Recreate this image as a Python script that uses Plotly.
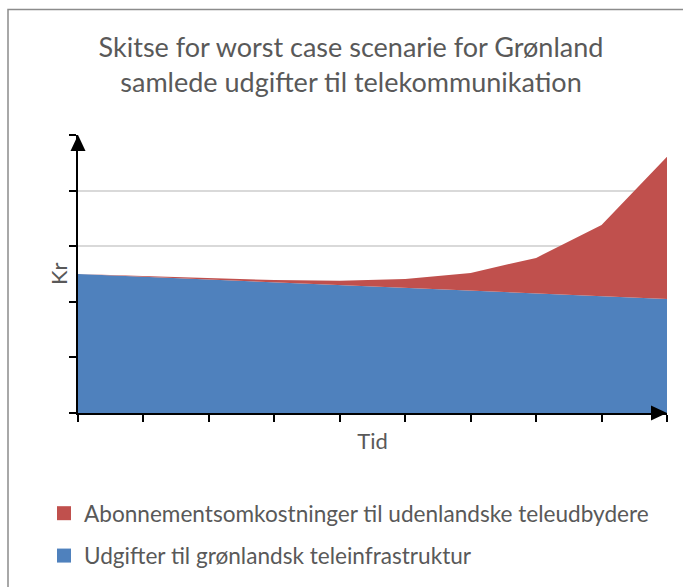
import plotly.graph_objects as go

# ---- data ----
time_steps = ["1", "2", "3", "4", "5", "6", "7", "8", "9", "10"]
infra_costs = [2.50, 2.45, 2.40, 2.35, 2.30, 2.25, 2.20, 2.15, 2.10, 2.05]
foreign_subscriptions = [0.00, 0.01, 0.02, 0.04, 0.08, 0.16, 0.32, 0.64, 1.28, 2.56]
y_ticks = [0, 1, 2, 3, 4, 5]

series_names = [
    "Udgifter til grønlandsk teleinfrastruktur",
    "Abonnementsomkostninger til udenlandske teleudbydere",
]
title_lines = [
    "Skitse for worst case scenarie for Grønland",
    "samlede udgifter til telekommunikation",
]
x_title = "Tid"
y_title = "Kr"

BLUE = "#4F81BD"
RED = "#C0504D"
TXT = "#595959"
FONT = "Lato, 'Open Sans', sans-serif"

W, H = 683, 587
L, R, T, B = 78, 16, 135, 174
pw, ph = W - L - R, H - T - B

xidx = list(range(len(time_steps)))

fig = go.Figure()
fig.add_trace(go.Scatter(
    x=xidx, y=infra_costs, stackgroup="one", mode="lines",
    line=dict(width=0, color=BLUE), fillcolor=BLUE,
    showlegend=False, hoverinfo="skip", name=series_names[0]))
fig.add_trace(go.Scatter(
    x=xidx, y=foreign_subscriptions, stackgroup="one", mode="lines",
    line=dict(width=0, color=RED), fillcolor=RED,
    showlegend=False, hoverinfo="skip", name=series_names[1]))

# legend entries as square swatches
fig.add_trace(go.Scatter(
    x=[None], y=[None], mode="markers", name=series_names[1],
    marker=dict(symbol="square", size=14, color=RED),
    legendgroup="a", legendrank=1))
fig.add_trace(go.Scatter(
    x=[None], y=[None], mode="markers", name=series_names[0],
    marker=dict(symbol="square", size=14, color=BLUE),
    legendgroup="b", legendrank=2))

def px_x(px):
    return (px - L) / pw

def px_y(py):
    return (H - B - py) / ph

# outer chart border
fig.add_shape(type="rect", xref="paper", yref="paper",
              x0=px_x(8), x1=px_x(700), y0=px_y(600), y1=px_y(9.5),
              line=dict(color="#8C8C8C", width=1.5), layer="below")

# arrow heads on axes
fig.add_shape(type="path", xref="paper", yref="paper", xsizemode="pixel", ysizemode="pixel",
              xanchor=0, yanchor=1, path="M-7.5,-16 L7.5,-16 L0,0 Z",
              fillcolor="black", line=dict(width=0))
fig.add_shape(type="path", xref="paper", yref="paper", xsizemode="pixel", ysizemode="pixel",
              xanchor=1, yanchor=0, path="M0,0 L-16,7.5 L-16,-7.5 Z",
              fillcolor="black", line=dict(width=0))

# y-axis title
fig.add_annotation(text=y_title, xref="paper", yref="paper", x=px_x(58), y=0.5,
                   xanchor="center", yanchor="middle", textangle=-90, showarrow=False,
                   font=dict(size=22, color=TXT, family=FONT))

fig.update_layout(
    width=W, height=H,
    margin=dict(l=L, r=R, t=T, b=B, autoexpand=False),
    paper_bgcolor="white", plot_bgcolor="white",
    font=dict(family=FONT, color=TXT),
    title=dict(text="<br>".join(title_lines), x=351 / W, xanchor="center",
               xref="container", yref="container", y=1 - 56.5 / H, yanchor="middle",
               font=dict(size=27, color=TXT, family=FONT)),
    showlegend=True,
    legend=dict(x=px_x(44), y=px_y(492), xanchor="left", yanchor="top",
                xref="paper", yref="paper", orientation="v",
                font=dict(size=22.6, color=TXT, family=FONT),
                tracegroupgap=10, itemsizing="trace",
                bgcolor="rgba(0,0,0,0)"),
    xaxis=dict(range=[0, len(time_steps) - 1], tickmode="array", tickvals=xidx,
               showticklabels=False, ticks="outside", ticklen=7, tickwidth=2,
               tickcolor="black", showline=True, linewidth=2, linecolor="black",
               showgrid=False, zeroline=False, fixedrange=True, automargin=False,
               title=dict(text=x_title, font=dict(size=22, color=TXT), standoff=13)),
    yaxis=dict(range=[0, 5], tickmode="array", tickvals=y_ticks,
               showticklabels=False, ticks="outside", ticklen=7, tickwidth=2,
               tickcolor="black", showline=True, linewidth=2, linecolor="black",
               showgrid=True, gridcolor="#D9D9D9", gridwidth=1.5,
               zeroline=False, fixedrange=True, automargin=False),
)

fig.write_html("out.html", config={"displayModeBar": False},
               post_script="document.body.style.margin='0';")
